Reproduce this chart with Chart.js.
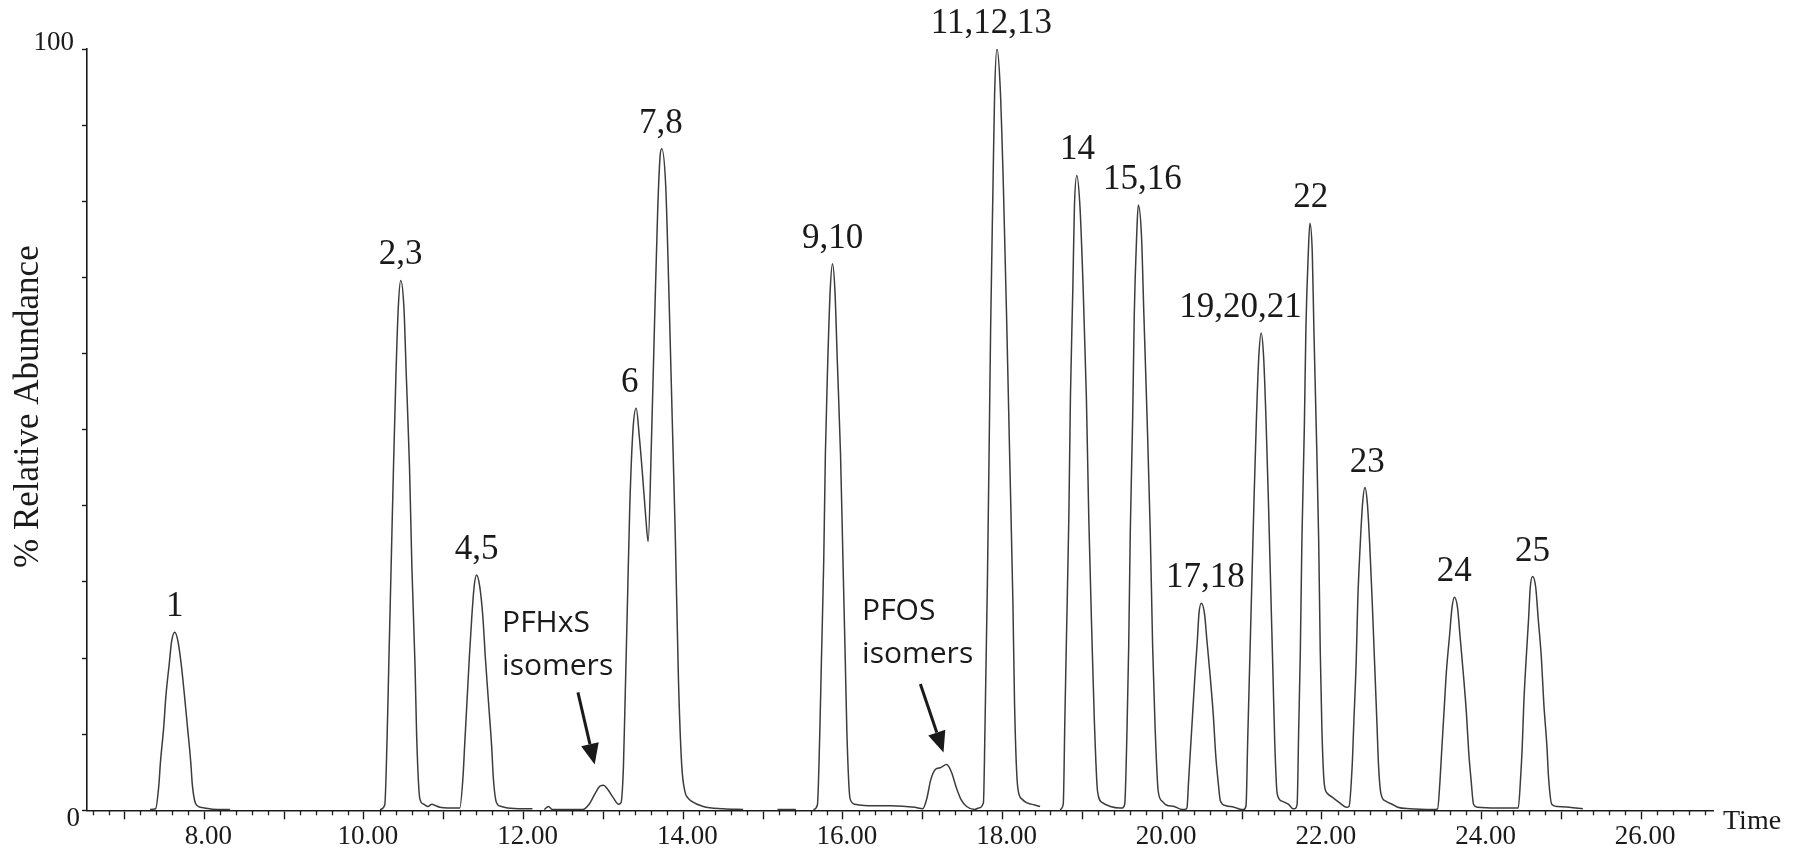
<!DOCTYPE html>
<html>
<head>
<meta charset="utf-8">
<title>Chromatogram</title>
<script src="https://cdn.jsdelivr.net/npm/chart.js@4.4.1/dist/chart.umd.min.js"></script>
<style>
    html, body { margin: 0; padding: 0; background: #ffffff; }
    #wrap { width: 1801px; height: 855px; position: relative; }
</style>
</head>
<body>
<div id="wrap"><canvas id="chromChart"></canvas></div>
<script>
// retention time (min) of the trace; null = gap between acquisition windows
const traceTime = [
    7.32, 7.39, 7.43, 7.45, 7.49, 7.52, 7.56, 7.59, 7.63, 7.67, 7.71, 7.75, 7.79, 7.83, 7.85, 7.89, 7.95, 8.00, 8.10, 8.32, 8.40,
    10.20, 10.26, 10.29, 10.31, 10.34, 10.37, 10.40, 10.43, 10.46, 10.50, 10.53, 10.57, 10.60, 10.64, 10.66, 10.70, 10.75, 10.80, 10.85, 10.90, 10.95, 11.05,
    11.15, 11.20, 11.24, 11.26, 11.29, 11.32, 11.35, 11.38, 11.41, 11.45, 11.49, 11.52, 11.56, 11.60, 11.62, 11.66, 11.72, 11.80, 12.00, 12.11, 12.20,
    12.26, 12.31, 12.36, 12.50, 12.74, 12.82, 12.90, 12.96, 13.00, 13.05, 13.12, 13.19, 13.22, 13.25, 13.27, 13.30, 13.33, 13.37, 13.41, 13.45,
    13.49, 13.53, 13.56, 13.60, 13.64, 13.68, 13.71, 13.73, 13.78, 13.82, 13.86, 13.90, 13.94, 13.98, 14.02, 14.06, 14.10, 14.25, 14.50, 14.75, 14.80,
    15.18, 15.41, 15.45,
    15.63, 15.68, 15.71, 15.73, 15.76, 15.78, 15.81, 15.84, 15.87, 15.90, 15.93, 15.97, 16.00, 16.03, 16.05, 16.09, 16.15, 16.40, 16.60, 16.90,
    17.00, 17.05, 17.10, 17.16, 17.22, 17.30, 17.36, 17.42, 17.48, 17.55, 17.65, 17.70,
    17.76, 17.78, 17.81, 17.83, 17.85, 17.88, 17.90, 17.93, 17.97, 18.01, 18.05, 18.09, 18.13, 18.15, 18.19, 18.24, 18.30, 18.40, 18.47, 18.50,
    18.72, 18.76, 18.78, 18.80, 18.83, 18.85, 18.88, 18.90, 18.93, 18.97, 19.01, 19.05, 19.08, 19.12, 19.15, 19.19, 19.25, 19.35, 19.47,
    19.50, 19.53, 19.56, 19.58, 19.60, 19.63, 19.65, 19.68, 19.70, 19.74, 19.77, 19.81, 19.85, 19.88, 19.91, 19.95, 20.00, 20.05, 20.15, 20.25,
    20.28, 20.31, 20.33, 20.35, 20.38, 20.41, 20.44, 20.46, 20.49, 20.53, 20.56, 20.60, 20.64, 20.67, 20.70, 20.73, 20.80, 20.90, 21.00,
    21.02, 21.05, 21.07, 21.09, 21.12, 21.15, 21.18, 21.21, 21.24, 21.27, 21.30, 21.33, 21.36, 21.39, 21.41, 21.44, 21.50, 21.58, 21.64,
    21.66, 21.69, 21.71, 21.73, 21.75, 21.78, 21.80, 21.83, 21.85, 21.88, 21.90, 21.93, 21.96, 21.98, 22.00, 22.03, 22.07, 22.12, 22.22, 22.31,
    22.34, 22.38, 22.40, 22.43, 22.45, 22.48, 22.51, 22.54, 22.57, 22.60, 22.63, 22.66, 22.69, 22.71, 22.74, 22.80, 22.88, 22.95, 23.10, 23.40,
    23.45, 23.48, 23.50, 23.53, 23.56, 23.60, 23.63, 23.66, 23.70, 23.73, 23.77, 23.81, 23.84, 23.87, 23.90, 23.95, 24.20, 24.44,
    24.46, 24.49, 24.51, 24.53, 24.56, 24.59, 24.61, 24.64, 24.68, 24.71, 24.75, 24.78, 24.82, 24.84, 24.88, 24.95, 25.10, 25.27
];
// % relative abundance at each time above
const traceAbundance = [
    0.1, 0.2, 3.3, 6.3, 10.8, 15.2, 19.2, 22.2, 23.4, 22.2, 19.2, 15.2, 10.8, 6.3, 3.3, 0.9, 0.4, 0.3, 0.15, 0.1, null,
    0.1, 0.7, 9.7, 18.8, 32, 45.2, 57.1, 66.1, 69.6, 66.1, 57.1, 45.2, 32, 18.8, 9.7, 1.5, 0.8, 0.5, 0.8, 0.6, 0.4, 0.3,
    0.3, 0.3, 4.3, 8.3, 14.2, 20.1, 25.3, 29.4, 30.9, 29.4, 25.3, 20.1, 14.2, 8.3, 4.3, 1.0, 0.5, 0.3, 0.2, 0.2, null,
    0.1, 0.5, 0.1, 0.1, 0.1, 0.8, 2.3, 3.2, 3.3, 2.8, 1.7, 0.8, 1.0, 5.7, 14, 27, 40, 50, 52.8, 49,
    44, 38.5, 35.3, 48, 64, 79, 86, 86.9, 82, 68, 52, 36, 17, 6, 2.5, 1.6, 1.2, 0.5, 0.2, 0.1, null,
    0.1, 0.1, null,
    0.1, 0.7, 10.1, 19.4, 33, 46.7, 58.9, 68.2, 71.8, 68.2, 58.9, 46.7, 33, 19.4, 10.1, 1.5, 0.8, 0.6, 0.6, 0.4,
    0.2, 1.5, 4, 5.4, 5.6, 6.0, 5, 3, 1.4, 0.5, 0.1, 0.3,
    1, 11, 30, 46, 63, 82, 94, 100, 95, 82, 65, 46, 27, 14, 3, 1.5, 1.0, 0.7, 0.5, null,
    0.1, 0.8, 11.7, 22.5, 38.4, 54.2, 68.4, 79.2, 83.4, 79.2, 68.4, 54.2, 38.4, 22.5, 11.7, 2.5, 1.0, 0.5, 0.3,
    0.3, 0.8, 11.1, 21.5, 36.6, 51.7, 65.2, 75.5, 79.5, 75.5, 65.2, 51.7, 36.6, 21.5, 11.1, 2.5, 1.2, 0.7, 0.5, 0.1,
    0.1, 0.3, 3.8, 7.3, 12.5, 17.7, 22.3, 25.8, 27.2, 25.8, 22.3, 17.7, 12.5, 7.3, 3.8, 1.2, 0.6, 0.4, 0.1,
    0.1, 0.6, 8.8, 16.9, 28.8, 40.8, 51.4, 59.6, 62.7, 59.6, 51.4, 40.8, 28.8, 16.9, 8.8, 2.2, 1.2, 0.8, 0.2,
    0.2, 0.8, 10.8, 20.8, 35.5, 50.1, 63.2, 73.2, 77.1, 73.2, 63.2, 50.1, 35.5, 20.8, 10.8, 3.5, 2.2, 1.8, 1.0, 0.4,
    0.5, 5.9, 11.4, 19.5, 27.6, 34.8, 40.3, 42.4, 40.3, 34.8, 27.6, 19.5, 11.4, 5.9, 2.2, 1.2, 0.8, 0.4, 0.2, 0.1,
    0.2, 3.9, 7.6, 12.9, 18.2, 23, 26.6, 28, 26.6, 23, 18.2, 12.9, 7.6, 3.9, 0.8, 0.4, 0.3, 0.3,
    0.3, 4.3, 8.3, 14.1, 20, 25.2, 29.2, 30.7, 29.2, 25.2, 20, 14.1, 8.3, 4.3, 0.8, 0.5, 0.4, 0.2
];
// peak numbers, where their label sits (time) and the apex it sits on
const peakNames = ["1", "2,3", "4,5", "6", "7,8", "9,10", "11,12,13", "14", "15,16", "17,18", "19,20,21", "22", "23", "24", "25"];
const peakLabelTime = [7.63, 10.46, 11.41, 13.33, 13.72, 15.87, 17.86, 18.94, 19.75, 20.54, 20.98, 21.86, 22.57, 23.66, 24.64];
const peakApex = [23.4, 69.6, 30.9, 52.8, 86.9, 71.8, 100, 83.4, 79.5, 27.2, 62.7, 77.1, 42.4, 28, 30.7];
const timeTickLabels = ["8.00", "10.00", "12.00", "14.00", "16.00", "18.00", "20.00", "22.00", "24.00", "26.00"];
const abundanceTickLabels = ["0", "100"];
const isomerNotes = [["PFHxS", "isomers"], ["PFOS", "isomers"]];

const INK = "#1a1a1a";
const SERIF = "'Liberation Serif', 'Times New Roman', serif";

if (traceTime.length !== traceAbundance.length) {
    console.error("trace arrays differ: " + traceTime.length + " / " + traceAbundance.length);
}

let points = [];
for (let i = 0; i < traceTime.length; i++) {
    points.push({x: traceTime[i], y: traceAbundance[i]});
}

function drawArrow(ctx, x0, y0, x1, y1) {
    const ang = Math.atan2(y1 - y0, x1 - x0);
    const headLen = 21, headHalf = 9;
    const bx = x1 - headLen * Math.cos(ang), by = y1 - headLen * Math.sin(ang);
    ctx.lineWidth = 3;
    ctx.beginPath();
    ctx.moveTo(x0, y0);
    ctx.lineTo(bx, by);
    ctx.stroke();
    ctx.beginPath();
    ctx.moveTo(x1, y1);
    ctx.lineTo(bx + headHalf * Math.sin(ang), by - headHalf * Math.cos(ang));
    ctx.lineTo(bx - headHalf * Math.sin(ang), by + headHalf * Math.cos(ang));
    ctx.closePath();
    ctx.fill();
}

// everything the axes don't draw themselves: minor ticks, end labels, titles, peak numbers, notes
const decorations = {
    id: "decorations",
    afterDraw(chart) {
        const ctx = chart.ctx;
        const xs = chart.scales.x, ys = chart.scales.y;
        const area = chart.chartArea;
        ctx.save();
        ctx.strokeStyle = INK;
        ctx.fillStyle = INK;

        // minor time ticks every 0.2 min
        ctx.lineWidth = 1.3;
        ctx.beginPath();
        for (let i = Math.ceil(xs.min / 0.2); i * 0.2 <= xs.max; i++) {
            if (i % 5 === 0) continue;
            const px = Math.round(xs.getPixelForValue(i * 0.2)) + 0.5;
            ctx.moveTo(px, area.bottom);
            ctx.lineTo(px, area.bottom + 5);
        }
        ctx.stroke();

        // y end labels
        ctx.font = "27px " + SERIF;
        ctx.textAlign = "right";
        ctx.textBaseline = "middle";
        ctx.fillText(abundanceTickLabels[1], area.left - 13, ys.getPixelForValue(100) - 6);
        ctx.fillText(abundanceTickLabels[0], area.left - 7, ys.getPixelForValue(0) + 9);

        // axis titles
        ctx.font = "28px " + SERIF;
        ctx.textAlign = "left";
        ctx.textBaseline = "alphabetic";
        ctx.fillText("Time", area.right + 10, area.bottom + 19);
        ctx.save();
        ctx.translate(29, (area.top + area.bottom) / 2 - 23);
        ctx.rotate(-Math.PI / 2);
        ctx.textAlign = "center";
        ctx.textBaseline = "middle";
        ctx.font = "35px " + SERIF;
        ctx.fillText("% Relative Abundance", 0, 0);
        ctx.restore();

        // peak numbers above each apex
        ctx.font = "35px " + SERIF;
        ctx.textAlign = "center";
        ctx.textBaseline = "alphabetic";
        for (let i = 0; i < peakNames.length; i++) {
            ctx.fillText(peakNames[i], xs.getPixelForValue(peakLabelTime[i]), ys.getPixelForValue(peakApex[i]) - 16);
        }

        // isomer notes with arrows
        const notes = [
            {text: isomerNotes[0], at: [11.73, 24.5], from: [12.68, 15.5], to: [12.89, 6.0]},
            {text: isomerNotes[1], at: [16.24, 26.1], from: [16.97, 16.6], to: [17.26, 7.6]}
        ];
        ctx.font = "30px 'Open Sans', sans-serif";
        ctx.textAlign = "left";
        ctx.textBaseline = "middle";
        notes.forEach(function (n) {
            const tx = xs.getPixelForValue(n.at[0]);
            const ty = ys.getPixelForValue(n.at[1]);
            ctx.fillText(n.text[0], tx, ty);
            ctx.fillText(n.text[1], tx, ty + 43);
            drawArrow(ctx, xs.getPixelForValue(n.from[0]), ys.getPixelForValue(n.from[1]),
                xs.getPixelForValue(n.to[0]), ys.getPixelForValue(n.to[1]));
        });
        ctx.restore();
    }
};

const chartOption = {
    responsive: true,
    maintainAspectRatio: false,
    animation: false,
    layout: {padding: {left: 82, right: 88, top: 49, bottom: 0}},
    plugins: {legend: {display: false}, tooltip: {enabled: false}},
    scales: {
        x: {
            type: "linear",
            min: 6.53,
            max: 26.9,
            border: {color: INK, width: 1.6},
            grid: {drawOnChartArea: false, tickLength: 9, tickColor: INK, tickWidth: 1.4},
            ticks: {
                stepSize: 1,
                includeBounds: false,
                autoSkip: false,
                maxRotation: 0,
                padding: 3,
                labelOffset: 4,
                color: INK,
                font: {family: SERIF, size: 27, lineHeight: 1.1},
                callback: function (value) {
                    const lbl = Number(value).toFixed(2);
                    return timeTickLabels.indexOf(lbl) >= 0 ? lbl : "";
                }
            }
        },
        y: {
            min: 0,
            max: 100,
            border: {color: INK, width: 1.6},
            grid: {drawOnChartArea: false, tickLength: 5, tickColor: INK, tickWidth: 1.4},
            ticks: {stepSize: 10, display: false}
        }
    }
};

new Chart(document.getElementById("chromChart"), {
    type: "line",
    data: {
        datasets: [{
            data: points,
            borderColor: "#3c3c3c",
            borderWidth: 1.5,
            pointRadius: 0,
            fill: false,
            spanGaps: false,
            cubicInterpolationMode: "monotone"
        }]
    },
    options: chartOption,
    plugins: [decorations]
});
</script>
</body>
</html>
